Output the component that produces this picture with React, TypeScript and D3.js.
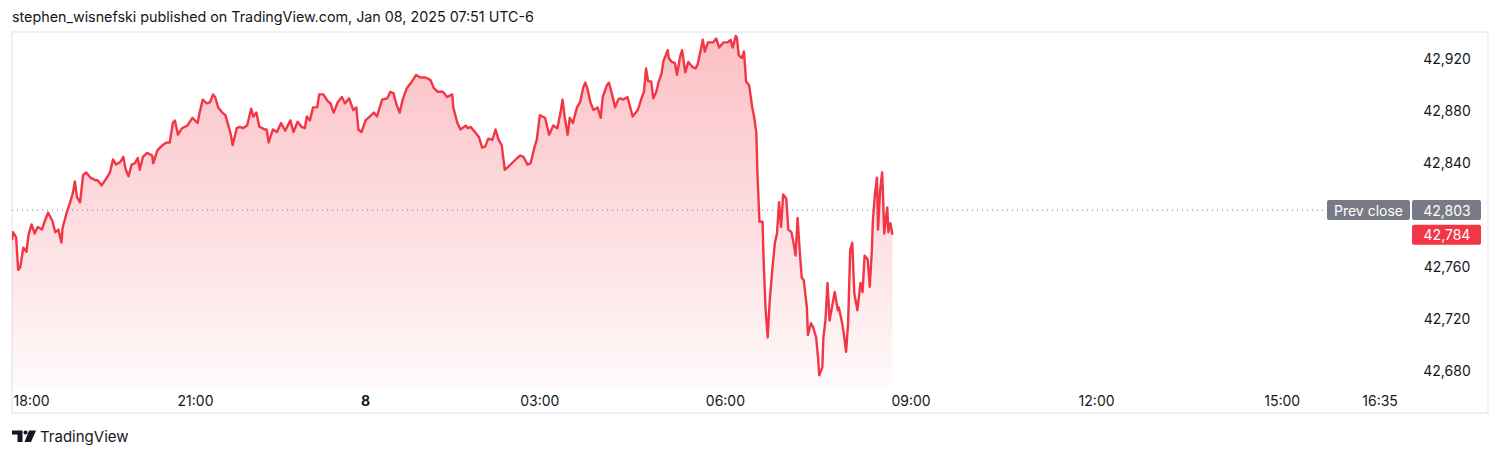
import React from "react";
import * as d3 from "d3";

// ---- data ----
const bars: number[] = [
  0, 1, 4, 6, 8, 11, 14, 16, 19, 22, 25, 29, 32, 35, 39, 42, 45, 48, 49, 53, 56, 59, 61, 63, 66, 69, 72, 76, 81, 83, 87, 92, 95, 98, 101, 105, 108, 110, 113, 116, 119, 122, 124, 127, 131, 136, 137, 141, 146, 150, 153, 156, 158, 161, 165, 170, 175, 180, 182, 185, 189, 192, 195, 197, 200, 204, 207, 212, 214, 218, 221,
  224, 228, 232, 234, 237, 240, 243, 245, 247, 249, 253, 257, 261, 265, 270, 273, 277, 281, 284, 286, 289, 292, 296, 298, 302, 306, 309, 312, 316, 320, 323, 327, 331, 334, 336, 339, 343, 347, 351, 354, 359, 364, 367, 370, 373, 376, 379, 383, 388, 392, 396, 401, 406, 409, 413, 418, 422, 427,
  428, 432, 435, 440, 442, 445, 449, 453, 456, 459, 462, 466, 469, 472, 475, 478, 481, 486, 490, 493, 496, 500, 503, 507, 509, 512, 517, 521, 525, 529, 532, 534, 536, 539, 541, 544, 548, 551, 554, 556, 558, 561, 564, 568, 571, 573, 577, 579, 582, 585, 588, 590, 593, 597, 602, 605, 607, 611, 613, 615, 617, 620, 622, 625, 627, 630, 632, 636, 637, 640, 643, 645, 648, 650, 653, 656, 660, 663, 665, 668,
  670, 672, 675, 680, 683, 686, 690, 694, 697, 699, 702, 703, 705, 708, 710, 712, 715, 718, 720, 722, 723, 725, 728, 729, 731, 733, 735, 737, 738, 740, 742, 744, 746, 748, 751, 753, 756, 758, 760, 762, 764, 766, 768, 771, 772, 775, 777, 780, 782, 783, 786, 787, 789, 791, 793, 796, 798, 801, 802, 805, 807, 809, 811, 813, 815, 817, 820, 823, 825, 827, 830, 832, 834, 835, 837, 839, 840, 842, 844, 845, 846, 849, 850, 852, 854,
];
const prices: number[] = [
  42780, 42786, 42782, 42757, 42759, 42774, 42771, 42784, 42792, 42785, 42790, 42788, 42795, 42801, 42795, 42786, 42788, 42778, 42789, 42801, 42808, 42816, 42825, 42813, 42809, 42830, 42832, 42828, 42826, 42826, 42822, 42828, 42832, 42842, 42838, 42840, 42844, 42835, 42829, 42838, 42839, 42843, 42834, 42844, 42847, 42845, 42839, 42849, 42853, 42855, 42855, 42870, 42872, 42861, 42866, 42868, 42874, 42870, 42878, 42888, 42885, 42886, 42892, 42890, 42882, 42878, 42876, 42862, 42853, 42866, 42867,
  42866, 42868, 42881, 42875, 42878, 42867, 42866, 42865, 42865, 42855, 42865, 42863, 42870, 42864, 42872, 42863, 42871, 42867, 42866, 42875, 42872, 42882, 42882, 42892, 42892, 42887, 42885, 42878, 42886, 42890, 42885, 42889, 42880, 42882, 42865, 42863, 42872, 42875, 42878, 42875, 42888, 42889, 42894, 42893, 42884, 42878, 42888, 42897, 42902, 42907, 42905, 42905, 42903, 42897, 42894, 42894, 42890, 42892,
  42882, 42870, 42865, 42868, 42866, 42867, 42863, 42859, 42851, 42852, 42858, 42857, 42865, 42857, 42853, 42834, 42836, 42840, 42843, 42845, 42844, 42838, 42839, 42852, 42857, 42876, 42874, 42861, 42868, 42866, 42878, 42888, 42875, 42861, 42874, 42870, 42882, 42886, 42897, 42901, 42897, 42886, 42880, 42882, 42874, 42890, 42899, 42901, 42892, 42882, 42888, 42889, 42888, 42890, 42875, 42878, 42880, 42890, 42894, 42912, 42902, 42902, 42889, 42894, 42901, 42908, 42918, 42926, 42920, 42917, 42916, 42907, 42921, 42926, 42909, 42917, 42913, 42912, 42915, 42926,
  42934, 42925, 42932, 42932, 42935, 42928, 42932, 42932, 42934, 42928, 42937, 42936, 42922, 42920, 42925, 42902, 42899, 42882, 42874, 42862, 42832, 42794, 42794, 42765, 42726, 42705, 42734, 42753, 42762, 42778, 42785, 42809, 42790, 42815, 42812, 42788, 42786, 42778, 42768, 42797, 42772, 42751, 42749, 42728, 42707, 42716, 42713, 42705, 42688, 42676, 42682, 42705, 42718, 42747, 42718, 42731, 42740, 42726, 42728, 42717, 42707, 42694, 42716, 42772, 42778, 42739, 42726, 42747, 42740, 42768, 42765, 42744, 42772, 42795, 42815, 42828, 42788, 42818, 42832, 42811, 42785, 42805, 42786, 42793, 42784,
];
const priceTicks: number[] = [42680, 42720, 42760, 42840, 42880, 42920];
const timeTickBars: number[] = [19, 178, 343, 512, 692, 872, 1052, 1232, 1327];
const timeTickLabels: string[] = ["18:00", "21:00", "8", "03:00", "06:00", "09:00", "12:00", "15:00", "16:35"];
const boldTicks: string[] = ["8"];
const prevClose = 42803;
const lastPrice = 42784;
const titleText = "stephen_wisnefski published on TradingView.com, Jan 08, 2025 07:51 UTC-6";

const FONT = "Inter, 'Noto Sans', sans-serif";

export default function App() {
  const W = 1500, H = 457;
  const plot = { left: 12, right: 1410, top: 32, bottom: 386 };
  const x = d3.scaleLinear().domain([0, 1356]).range([plot.left, plot.right]);
  const y = d3.scaleLinear().domain([42680, 42920]).range([370, 58]);
  const fmt = d3.format(",");

  const pts: [number, number][] = bars.map((b, i) => [b, prices[i]]);
  const line = d3.line<[number, number]>().x((d) => x(d[0])).y((d) => y(d[1]));
  const area = d3
    .area<[number, number]>()
    .x((d) => x(d[0]))
    .y0(plot.bottom)
    .y1((d) => y(d[1]));

  const red = "#F23645";
  const grey = "#787B86";
  const axisX = 1447;

  return (
    <svg
      width={W}
      height={H}
      style={{ position: "absolute", left: 0, top: 0, background: "#fff" }}
      fontFamily={FONT}
    >
      <defs>
        <linearGradient id="fillGrad" gradientUnits="userSpaceOnUse" x1="0" y1={plot.top} x2="0" y2={plot.bottom}>
          <stop offset="0" stopColor={red} stopOpacity={0.32} />
          <stop offset="1" stopColor={red} stopOpacity={0.03} />
        </linearGradient>
        <clipPath id="plotClip">
          <rect x={plot.left} y={plot.top} width={plot.right - plot.left} height={plot.bottom - plot.top} />
        </clipPath>
      </defs>

      <text x={12} y={22} fontSize={14.3} fill="#131722">{titleText}</text>

      <rect x={12} y={32} width={1476} height={381} fill="none" stroke="#E0E3EB" strokeWidth={1} />

      <g clipPath="url(#plotClip)">
        <path d={area(pts) || ""} fill="url(#fillGrad)" />
        <line
          x1={plot.left}
          x2={plot.right}
          y1={y(prevClose)}
          y2={y(prevClose)}
          stroke={grey}
          strokeWidth={1}
          strokeDasharray="1 4"
        />
        <path d={line(pts) || ""} fill="none" stroke={red} strokeWidth={2.4} strokeLinejoin="round" />
      </g>

      {priceTicks.map((p) => (
        <text key={p} x={axisX} y={y(p)} fontSize={14} textAnchor="middle" dominantBaseline="central" fill="#131722">
          {fmt(p)}
        </text>
      ))}

      {/* prev close labels */}
      <rect x={1327} y={y(prevClose) - 10} width={83} height={20} rx={2} fill={grey} />
      <text x={1368.5} y={y(prevClose)} fontSize={14} textAnchor="middle" dominantBaseline="central" fill="#fff">
        Prev close
      </text>
      <rect x={1412} y={y(prevClose) - 10} width={69} height={20} rx={2} fill={grey} />
      <text x={axisX} y={y(prevClose)} fontSize={14} textAnchor="middle" dominantBaseline="central" fill="#fff">
        {fmt(prevClose)}
      </text>
      <rect x={1412} y={y(lastPrice) - 10} width={69} height={20} rx={2} fill={red} />
      <text x={axisX} y={y(lastPrice)} fontSize={14} textAnchor="middle" dominantBaseline="central" fill="#fff">
        {fmt(lastPrice)}
      </text>

      {timeTickBars.map((b, i) => (
        <text
          key={b}
          x={x(b)}
          y={400}
          fontSize={14}
          textAnchor="middle"
          dominantBaseline="central"
          fill="#131722"
          fontWeight={boldTicks.includes(timeTickLabels[i]) ? 700 : 400}
        >
          {timeTickLabels[i]}
        </text>
      ))}

      {/* TradingView logo */}
      <g fill="#131722">
        <path d="M12 430.5 H22.5 V442 H17.5 V434.5 H12 Z" />
        <circle cx={25.5} cy={432.5} r={2} />
        <path d="M29 430.5 H36 L31 442 H24.5 Z" />
      </g>
      <text x={40} y={436.5} fontSize={15} dominantBaseline="central" fill="#131722">
        TradingView
      </text>
    </svg>
  );
}
